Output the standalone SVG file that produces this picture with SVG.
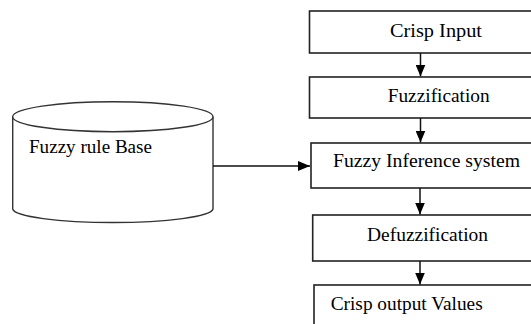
<svg xmlns="http://www.w3.org/2000/svg" width="531" height="324" viewBox="0 0 531 324">
<defs>
<marker id="ah" viewBox="0 0 12 10" refX="12" refY="5" markerWidth="12" markerHeight="10" markerUnits="userSpaceOnUse" orient="auto">
<path d="M0,0 L12,5 L0,10 Z" fill="#000"/>
</marker>
</defs>
<style>
.box{fill:#fff;stroke:#222;stroke-width:1.6}
.cyl{fill:#fff;stroke:#333;stroke-width:1.4}
.t{font-family:"Liberation Serif","Times New Roman",serif;font-size:18.5px;fill:#000}
.c{stroke:#111;stroke-width:1.5;fill:none;marker-end:url(#ah)}
</style>
<rect width="531" height="324" fill="#fff"/>
<g id="rulebase">
<path class="cyl" d="M12.7,116.7 L12.7,209 A100.2,14 0 0 0 213,209 L213,116.7"/>
<ellipse class="cyl" cx="112.85" cy="116.7" rx="100.15" ry="15"/>
<text class="t" x="29" y="153" textLength="123" lengthAdjust="spacingAndGlyphs">Fuzzy rule Base</text>
</g>
<g id="crisp-input">
<rect class="box" x="309.5" y="11" width="240" height="42"/>
<text class="t" x="390" y="36.7" textLength="92" lengthAdjust="spacingAndGlyphs">Crisp  Input</text>
</g>
<g id="fuzzification">
<rect class="box" x="309.5" y="77" width="240" height="41"/>
<text class="t" x="387.7" y="101.7" textLength="102" lengthAdjust="spacingAndGlyphs">Fuzzification</text>
</g>
<g id="inference">
<rect class="box" x="311" y="143" width="240" height="45"/>
<text class="t" x="333" y="167" textLength="187" lengthAdjust="spacingAndGlyphs">Fuzzy Inference system</text>
</g>
<g id="defuzzification">
<rect class="box" x="312.7" y="215" width="240" height="46"/>
<text class="t" x="367" y="241" textLength="121" lengthAdjust="spacingAndGlyphs">Defuzzification</text>
</g>
<g id="crisp-output">
<rect class="box" x="314" y="285" width="240" height="60"/>
<text class="t" x="330.7" y="310" textLength="152" lengthAdjust="spacingAndGlyphs">Crisp output Values</text>
</g>
<g id="connectors">
<line class="c" x1="420.5" y1="53" x2="420.5" y2="76.5"/>
<line class="c" x1="420.5" y1="118" x2="420.5" y2="142.5"/>
<line class="c" x1="420" y1="188" x2="420" y2="214.5"/>
<line class="c" x1="420" y1="261" x2="420" y2="284.5"/>
<line class="c" x1="213" y1="166" x2="310" y2="166"/>
</g>
</svg>
